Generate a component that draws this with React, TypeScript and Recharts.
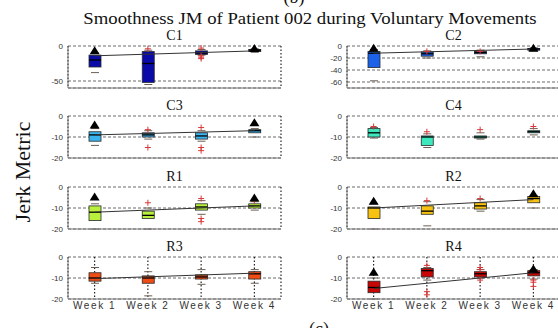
import React from 'react'
import { ComposedChart, Bar, Line, XAxis, YAxis, CartesianGrid } from 'recharts'

const weeks = ['Week 1', 'Week 2', 'Week 3', 'Week 4']

// box stats per week: [whisker low, q1, median, q3, whisker high]
const c1Box = [[-38, -30, -20, -13, -10], [-55, -52, -25, -8, -6], [-13, -12, -10, -7, -5], [-9, -8, -6, -5, -4]]
const c2Box = [[-58, -36, -12, -9, -6], [-20, -17, -13, -10, -8], [-18, -13, -11, -9, -7], [-8, -7, -5, -4, -3]]
const c3Box = [[-14, -12, -9, -7.5, -6], [-11, -10, -9, -8, -7], [-12, -11, -9.5, -8, -7], [-10, -8, -7, -6.5, -6]]
const c4Box = [[-10.5, -10, -8, -6, -5.5], [-15, -14, -10, -9.5, -8.5], [-11, -10.5, -10, -9.5, -8], [-9, -8, -7.5, -7, -6]]
const r1Box = [[-20, -16, -12, -9, -8], [-20, -15, -13.5, -11.5, -10], [-13, -11, -9.5, -8, -6.5], [-11, -10, -9, -8, -7]]
const r2Box = [[-20, -15, -10, -9.5, -8], [-18.5, -13, -11.5, -9, -7], [-11.5, -10.5, -9, -7.5, -6], [-10, -7.5, -5.5, -4.5, -4]]
const r3Box = [[-12.5, -11.5, -10, -7.5, -5], [-18.5, -12.5, -10, -9, -7], [-13, -10.5, -9.5, -8.5, -6], [-12.5, -10.5, -8, -7, -6]]
const r4Box = [[-20, -17, -14.5, -11.5, -10], [-11, -9.5, -6.5, -5.5, -5], [-10, -9.5, -8, -7, -6], [-10.5, -9, -7.5, -6.5, -6]]

// outliers: [week index, value]
const c1Out = [[1, -4], [2, -3], [2, -14], [2, -16], [2, -18]]
const c2Out = [[1, -9], [2, -9]]
const c3Out = [[1, -6.5], [1, -15], [2, -5.5], [2, -15], [2, -16.5]]
const c4Out = [[0, -5], [1, -7.5], [2, -6.5], [3, -5]]
const r1Out = [[1, -7.5], [2, -5.5], [2, -15], [2, -16.5], [3, -6.5]]
const r2Out = [[1, -6.5], [2, -5.5]]
const r3Out: number[][] = []
const r4Out = [[1, -4], [1, -16.5], [1, -18], [2, -5], [2, -6], [2, -11], [3, -11], [3, -12], [3, -14]]

// black triangle markers: [week index, value]
const c1Tri = [[0, -6], [3, -3]]
const c2Tri = [[0, -3], [3, -3]]
const c3Tri = [[0, -4], [3, -3]]
const c4Tri: number[][] = []
const r1Tri = [[0, -4.5], [3, -5]]
const r2Tri = [[0, -6.5], [3, -3]]
const r3Tri: number[][] = []
const r4Tri = [[0, -7], [3, -5.5]]

// trend line end points (week 1 and week 4)
const c1Trend = [-14, null, null, -7]
const c2Trend = [-12, null, null, -5]
const c3Trend = [-9, null, null, -7]
const c4Trend = [null, null, null, null]
const r1Trend = [-12, null, null, -9]
const r2Trend = [-10, null, null, -6]
const r3Trend = [-10.3, null, null, -7.7]
const r4Trend = [-15, null, null, -7.5]

const panels = [
  { name: 'C1', color: '#0a0aa8', box: c1Box, out: c1Out, tri: c1Tri, trend: c1Trend, domain: [-60, 0], ticks: [-50, 0] },
  { name: 'C2', color: '#1c62e8', box: c2Box, out: c2Out, tri: c2Tri, trend: c2Trend, domain: [-70, 0], ticks: [-60, -40, -20, 0] },
  { name: 'C3', color: '#3ab4ee', box: c3Box, out: c3Out, tri: c3Tri, trend: c3Trend, domain: [-20, 0], ticks: [-20, -10, 0] },
  { name: 'C4', color: '#3ee8be', box: c4Box, out: c4Out, tri: c4Tri, trend: c4Trend, domain: [-20, 0], ticks: [-20, -10, 0] },
  { name: 'R1', color: '#b8f03c', box: r1Box, out: r1Out, tri: r1Tri, trend: r1Trend, domain: [-20, 0], ticks: [-20, -10, 0] },
  { name: 'R2', color: '#f8c212', box: r2Box, out: r2Out, tri: r2Tri, trend: r2Trend, domain: [-20, 0], ticks: [-20, -10, 0] },
  { name: 'R3', color: '#f04c16', box: r3Box, out: r3Out, tri: r3Tri, trend: r3Trend, domain: [-20, 0], ticks: [-20, -10, 0] },
  { name: 'R4', color: '#c80606', box: r4Box, out: r4Out, tri: r4Tri, trend: r4Trend, domain: [-20, 0], ticks: [-20, -10, 0] }
]

const colLeft = [68, 347]
const rowTop = [46, 116, 187, 257]
const plotW = 213
const plotH = 42
const axisW = 36
const outKeys = ['o0', 'o1', 'o2', 'o3']

const BoxShape = (props: any) => {
  const { x, y, width, height, payload, fill } = props
  const [lo, q1, med, q3, hi] = payload.stats
  const top = Math.min(y, y + height)
  const bot = Math.max(y, y + height)
  const py = (v: number) => top + ((hi - v) / (hi - lo)) * (bot - top)
  const cx = x + width / 2
  return (
    <g>
      <line x1={cx - 4} x2={cx + 4} y1={py(hi)} y2={py(hi)} stroke="#6b5f55" strokeWidth={1} />
      <line x1={cx - 4} x2={cx + 4} y1={py(lo)} y2={py(lo)} stroke="#6b5f55" strokeWidth={1} />
      <rect x={x} y={py(q3)} width={width} height={py(q1) - py(q3)} fill={fill} stroke="#2a2a2a" strokeWidth={0.8} />
      <line x1={x} x2={x + width} y1={py(med)} y2={py(med)} stroke="#000" strokeWidth={1.3} />
    </g>
  )
}

const PlusDot = (props: any) => {
  const { cx, cy, value, index } = props
  if (value == null || cy == null || isNaN(cy)) return <g key={index} />
  return (
    <g key={index} stroke="#d8383a" strokeWidth={1}>
      <line x1={cx - 3} x2={cx + 3} y1={cy} y2={cy} />
      <line x1={cx} x2={cx} y1={cy - 3} y2={cy + 3} />
    </g>
  )
}

const TriDot = (props: any) => {
  const { cx, cy, value, index } = props
  if (value == null || cy == null || isNaN(cy)) return <g key={index} />
  return <path key={index} d={`M${cx - 5},${cy + 4} L${cx + 5},${cy + 4} L${cx},${cy - 4} Z`} fill="#000" />
}

function Panel({ p, col, row }: { p: any; col: number; row: number }) {
  const bottomRow = row === 3
  const xH = bottomRow ? 18 : 1
  const bottomPad = bottomRow ? 0 : 5
  const data = weeks.map((w, i) => {
    const row: any = { week: w, range: [p.box[i][0], p.box[i][4]], stats: p.box[i], trend: p.trend[i], tri: null }
    const outs = p.out.filter((o: number[]) => o[0] === i).map((o: number[]) => o[1])
    outKeys.forEach((k, j) => (row[k] = outs[j] ?? null))
    const t = p.tri.find((o: number[]) => o[0] === i)
    if (t) row.tri = t[1]
    return row
  })
  const left = colLeft[col] - axisW
  const top = rowTop[row] - 4
  return (
    <>
      <div
        style={{
          position: 'absolute',
          left: colLeft[col] + plotW / 2,
          top: rowTop[row] - 17,
          transform: 'translateX(-50%)',
          fontFamily: '"Liberation Serif", serif',
          fontSize: 14,
          lineHeight: '14px',
          color: '#111'
        }}
      >
        {p.name}
      </div>
      <div style={{ position: 'absolute', left, top }}>
        <ComposedChart
          width={axisW + plotW + 4}
          height={4 + plotH + xH + bottomPad}
          data={data}
          margin={{ top: 4, right: 4, bottom: bottomPad, left: 0 }}
        >
          <CartesianGrid vertical={false} stroke="#444" strokeDasharray="3 2" strokeWidth={0.8} />
          <CartesianGrid horizontal={false} stroke="#111" strokeDasharray="1.5 2" strokeWidth={1.1} />
          <XAxis
            dataKey="week"
            type="category"
            height={xH}
            stroke="#777"
            tickLine={false}
            tickMargin={3}
            tickSize={0}
            tick={bottomRow ? { fontSize: 10, fill: '#333', fontFamily: '"Liberation Sans", Arial', letterSpacing: 1.6 } : false}
          />
          <YAxis
            type="number"
            domain={p.domain}
            ticks={p.ticks}
            width={axisW}
            stroke="#777"
            tickLine={false}
            tickSize={3}
            tickMargin={2}
            interval={0}
            tick={{ fontSize: 8, fill: '#333', fontFamily: '"Liberation Sans", Arial' }}
          />
          <Bar dataKey="range" barSize={12} fill={p.color} shape={BoxShape} isAnimationActive={false} />
          <Line dataKey="trend" stroke="#333" strokeWidth={1} dot={false} activeDot={false} connectNulls isAnimationActive={false} />
          {outKeys.map((k) => (
            <Line key={k} dataKey={k} stroke="none" dot={PlusDot} activeDot={false} isAnimationActive={false} />
          ))}
          <Line dataKey="tri" stroke="none" dot={TriDot} activeDot={false} isAnimationActive={false} />
        </ComposedChart>
      </div>
    </>
  )
}

export default function App() {
  return (
    <div
      style={{
        position: 'absolute',
        left: 0,
        top: 0,
        width: 558,
        height: 328,
        overflow: 'hidden',
        background: '#fff'
      }}
    >
      <div
        style={{
          position: 'absolute',
          left: 294,
          top: -12,
          transform: 'translateX(-50%)',
          fontFamily: '"Liberation Serif", serif',
          fontSize: 18,
          lineHeight: '18px',
          color: '#111'
        }}
      >
        (b)
      </div>
      <div
        style={{
          position: 'absolute',
          left: 310,
          top: 11,
          transform: 'translateX(-50%) scaleX(1.17)',
          whiteSpace: 'nowrap',
          fontFamily: '"Liberation Serif", serif',
          fontSize: 16,
          lineHeight: '16px',
          color: '#111'
        }}
      >
        Smoothness JM of Patient 002 during Voluntary Movements
      </div>
      <div
        style={{
          position: 'absolute',
          left: 23,
          top: 172,
          transform: 'translate(-50%, -50%) rotate(-90deg)',
          whiteSpace: 'nowrap',
          fontFamily: '"Liberation Serif", serif',
          fontSize: 22,
          lineHeight: '22px',
          color: '#111'
        }}
      >
        Jerk Metric
      </div>
      {panels.map((p, i) => (
        <Panel key={p.name} p={p} col={i % 2} row={Math.floor(i / 2)} />
      ))}
      <div
        style={{
          position: 'absolute',
          left: 319,
          top: 320,
          transform: 'translateX(-50%)',
          fontFamily: '"Liberation Serif", serif',
          fontSize: 18,
          lineHeight: '18px',
          color: '#111'
        }}
      >
        (c)
      </div>
    </div>
  )
}
